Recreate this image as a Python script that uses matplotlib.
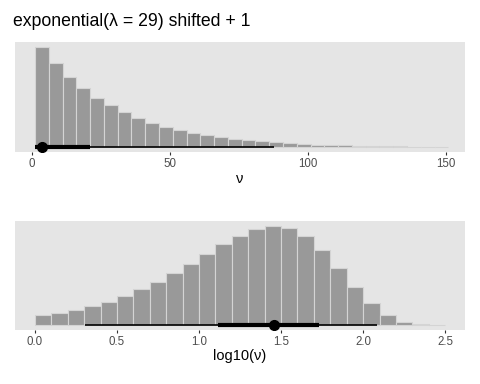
import numpy as np
import matplotlib.pyplot as plt

plt.rcParams['font.family'] = ['Liberation Sans', 'DejaVu Sans']

# histogram of nu (bins of width 5 starting at 1)
nu_start = 1.0
nu_width = 5.0
nu_counts = [298, 250, 210, 176, 147, 125, 104, 88, 73, 61, 52, 43, 36, 30, 25,
             20, 17, 14, 11, 9, 7, 6, 5, 4, 3, 2.5, 2, 1.5, 1.2, 1.0]
nu_point = 3.7
nu_hdi50 = [1.15, 20.9]
nu_hdi95 = [1.15, 87.8]

# histogram of log10(nu) (bins of width 0.1 starting at 0)
lg_start = 0.0
lg_width = 0.1
lg_counts = [29, 36, 46, 57, 70, 87, 107, 130, 155, 183, 212, 244, 268, 288, 298,
             292, 267, 225, 171, 115, 65, 30, 10, 3, 1]
lg_point = 1.459
lg_hdi50 = [1.118, 1.734]
lg_hdi95 = [0.305, 2.087]

bg = '#E5E5E5'
bar_col = '#999999'


def draw_panel(ax, start, width, counts, point, hdi50, hdi95, xlim, ticks, ticklabels, xlabel):
    counts = np.array(counts, dtype=float)
    edges = start + width * np.arange(len(counts))
    ax.set_facecolor(bg)
    ax.bar(edges, counts, width=width, align='edge', color=bar_col,
           edgecolor='#D4D4D4', linewidth=0.8)
    ax.plot(hdi95, [0, 0], color='black', lw=1.2, solid_capstyle='butt')
    ax.plot(hdi50, [0, 0], color='black', lw=3.0, solid_capstyle='butt')
    ax.plot([point], [0], 'o', color='black', ms=7)
    ax.set_xlim(*xlim)
    top = counts.max()
    ax.set_ylim(-0.05 * top, 1.05 * top)
    ax.set_yticks([])
    ax.set_xticks(ticks)
    ax.set_xticklabels(ticklabels)
    ax.tick_params(axis='x', length=2.5, width=0.8, color='#333333',
                   labelcolor='#4D4D4D', labelsize=8.3, pad=2)
    ax.set_xlabel(xlabel, fontsize=10.5, labelpad=1)
    for s in ax.spines.values():
        s.set_visible(False)


fig = plt.figure(figsize=(4.8, 3.84), dpi=100)

ax1 = fig.add_axes([0.031, 0.604, 0.9375, 0.286])
draw_panel(ax1, nu_start, nu_width, nu_counts, nu_point, nu_hdi50, nu_hdi95,
           (-6.3, 157), [0, 50, 100, 150], ['0', '50', '100', '150'], 'ν')

ax2 = fig.add_axes([0.031, 0.141, 0.9375, 0.284])
draw_panel(ax2, lg_start, lg_width, lg_counts, lg_point, lg_hdi50, lg_hdi95,
           (-0.122, 2.62), [0, 0.5, 1.0, 1.5, 2.0, 2.5],
           ['0.0', '0.5', '1.0', '1.5', '2.0', '2.5'], 'log10(ν)')

fig.text(0.027, 0.945, 'exponential(λ = 29) shifted + 1', fontsize=12.7,
         ha='left', va='center')

fig.savefig('out.png', dpi=100)
